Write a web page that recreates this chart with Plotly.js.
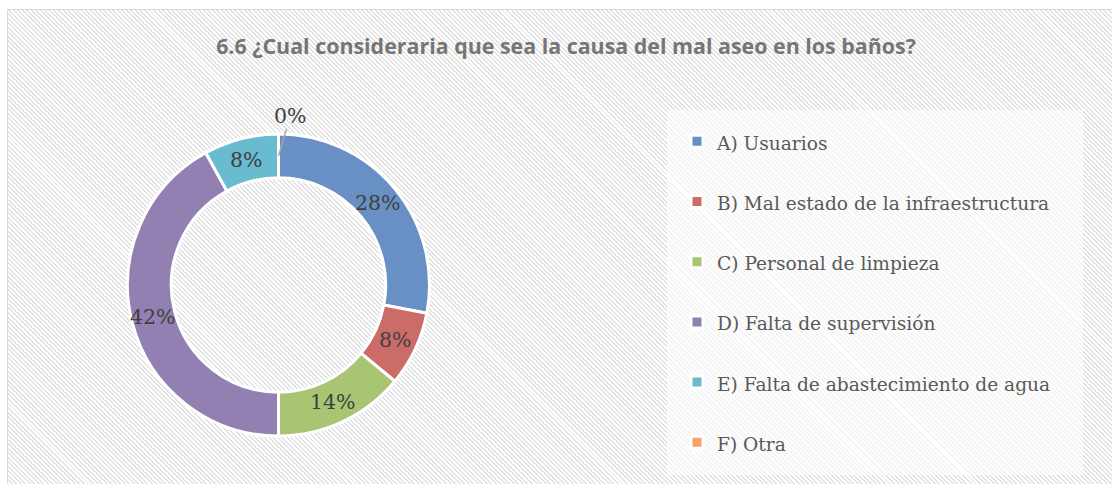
<!DOCTYPE html>
<html>
<head>
<meta charset="utf-8">
<script src="https://cdn.plot.ly/plotly-3.0.1.min.js"></script>
<style>
  html, body { margin: 0; padding: 0; background: #ffffff; }
  #wrap { position: relative; width: 1112px; height: 484px; overflow: hidden; }
  #hatch {
    position: absolute; left: 7px; top: 9px; width: 1110px; height: 480px;
    border: 1px solid #d9d9d9; box-sizing: border-box;
    background: repeating-linear-gradient(45deg, #ffffff 0px, #ffffff 1.8px, #e1e1e1 1.8px, #e1e1e1 3.2px);
  }
  #chart { position: absolute; left: 0; top: 0; width: 1112px; height: 484px; }
</style>
</head>
<body>
<div id="wrap">
  <div id="hatch"></div>
  <div id="chart"></div>
</div>
<script>
// ---- data ----
const categories = [
  "A) Usuarios",
  "B) Mal estado de la infraestructura",
  "C) Personal de limpieza",
  "D) Falta de supervisión",
  "E) Falta de abastecimiento de agua",
  "F) Otra"
];
const percentValues = [28, 8, 14, 42, 8, 0];
const sliceColors = ["#6890c5", "#cb6c69", "#a9c573", "#9380b2", "#69bbd0", "#f8a264"];
const chartTitle = "6.6 ¿Cual consideraria que sea la causa del mal aseo en los baños?";

// ---- geometry helpers ----
const W = 1112, H = 484;
const cx = 278.5, cy = 285, R = 151, holeFrac = 0.71;

const legendFontSize = 22;
const legendTextSize = 18.6;
const labelFont = { family: 'DejaVu Serif', size: 20.5, color: '#404040' };

const legendLabels = categories.map(c => '<span style="font-size:' + legendTextSize + 'px">' + c + '</span><br> ');

const trace = {
  type: 'pie',
  labels: legendLabels,
  values: percentValues,
  sort: false,
  direction: 'clockwise',
  rotation: 0,
  hole: holeFrac,
  marker: { colors: sliceColors, line: { color: '#ffffff', width: 3 } },
  textinfo: 'none',
  hoverinfo: 'label+percent',
  domain: {
    x: [(cx - R) / W, (cx + R) / W],
    y: [(H - cy - R) / H, (H - cy + R) / H]
  },
  showlegend: true
};

// percentage labels placed at each slice's mid-angle on the ring
const total = percentValues.reduce((a, b) => a + b, 0);
const rMid = R * (1 + holeFrac) / 2;
const annotations = [];
let cum = 0;
percentValues.forEach((v, i) => {
  const startFrac = cum / total;
  cum += v;
  const midFrac = (startFrac + cum / total) / 2;
  const theta = 2 * Math.PI * midFrac;
  const px = cx + rMid * Math.sin(theta);
  const py = cy - rMid * Math.cos(theta);
  const txt = Math.round(100 * v / total) + '%';
  if (v === 0) {
    annotations.push({
      xref: 'paper', yref: 'paper',
      x: px / W, y: 1 - py / H,
      text: txt,
      showarrow: true, arrowhead: 0, arrowwidth: 1.5, arrowcolor: '#a6a6a6',
      ax: 12, ay: -40, standoff: 0,
      font: labelFont
    });
  } else {
    annotations.push({
      xref: 'paper', yref: 'paper',
      x: px / W, y: 1 - py / H,
      xanchor: 'center', yanchor: 'middle',
      text: txt, showarrow: false,
      font: labelFont
    });
  }
});

const layout = {
  width: W, height: H,
  margin: { l: 0, r: 0, t: 0, b: 0, autoexpand: false },
  paper_bgcolor: 'rgba(0,0,0,0)',
  plot_bgcolor: 'rgba(0,0,0,0)',
  title: {
    text: '<b>' + chartTitle + '</b>',
    x: 566 / W, xanchor: 'center',
    y: 1 - 47 / H, yanchor: 'middle',
    font: { family: 'Open Sans', size: 21.4, color: '#767676' }
  },
  showlegend: true,
  legend: {
    x: 677 / W, xanchor: 'left',
    y: 1 - 120.5 / H, yanchor: 'top',
    bgcolor: 'rgba(0,0,0,0)',
    valign: 'top',
    font: { family: 'DejaVu Serif', size: legendFontSize, color: '#595959' }
  },
  shapes: [{
    type: 'rect', xref: 'paper', yref: 'paper', layer: 'below',
    x0: 667 / W, x1: 1083 / W, y0: 1 - 475 / H, y1: 1 - 110 / H,
    fillcolor: 'rgba(255,255,255,0.6)', line: { width: 0 }
  }],
  annotations: annotations
};

Plotly.newPlot('chart', [trace], layout, { displayModeBar: false, staticPlot: true });
</script>
</body>
</html>
